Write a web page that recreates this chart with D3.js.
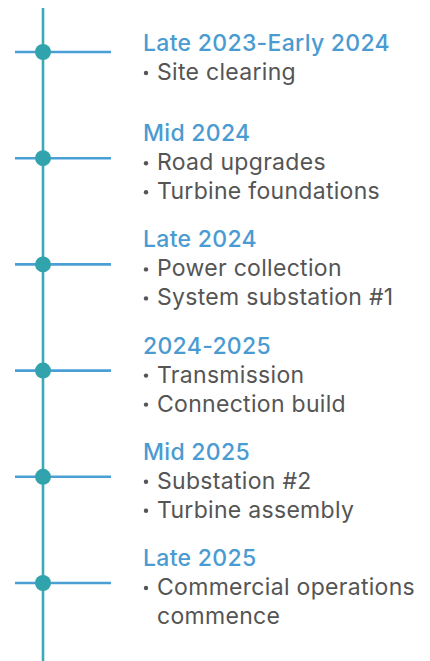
<!DOCTYPE html>
<html>
<head>
<meta charset="utf-8">
<script src="https://cdn.jsdelivr.net/npm/d3@7"></script>
<style>
  html, body { margin: 0; padding: 0; background: #ffffff; }
  svg { display: block; }
</style>
</head>
<body>
<svg id="chart"></svg>
<script>
const phases = ['Late 2023-Early 2024', 'Mid 2024', 'Late 2024', '2024-2025', 'Mid 2025', 'Late 2025'];
const tasks = [
    ['Site clearing'],
    ['Road upgrades', 'Turbine foundations'],
    ['Power collection', 'System substation #1'],
    ['Transmission', 'Connection build'],
    ['Substation #2', 'Turbine assembly'],
    ['Commercial operations', 'commence']
];
// lines that wrap from the previous bullet (no bullet drawn)
const continued = [[false], [false, false], [false, false], [false, false], [false, false], [false, true]];

const width = 430;
const height = 661;
const axisX = 43;
const textX = 143;
const lineH = 29;

const svg = d3.select('#chart')
    .attr('width', width)
    .attr('height', height);

const y = d3.scalePoint()
    .domain(phases)
    .range([52, 583]);

// vertical spine
svg.append('line')
    .attr('x1', axisX)
    .attr('x2', axisX)
    .attr('y1', 8)
    .attr('y2', height)
    .attr('stroke', '#3aabb6')
    .attr('stroke-width', 2.6);

const items = svg.selectAll('.item')
    .data(phases)
    .enter()
    .append('g')
    .attr('class', 'item');

items.append('line')
    .attr('x1', 15)
    .attr('x2', 111)
    .attr('y1', d => y(d))
    .attr('y2', d => y(d))
    .attr('stroke', '#4a9fd4')
    .attr('stroke-width', 2.6);

items.append('circle')
    .attr('cx', axisX)
    .attr('cy', d => y(d))
    .attr('r', 8)
    .attr('fill', '#31a3ad');

const titleY = d => Math.max(y(d) - 17, 51);

items.append('text')
    .attr('x', textX)
    .attr('y', titleY)
    .attr('fill', '#4a9bd2')
    .style('font-family', 'Inter, sans-serif')
    .style('font-size', '23px')
    .style('letter-spacing', '0.3px')
    .style('font-weight', 500)
    .text(d => d);

items.each(function(d, i) {
    const g = d3.select(this);
    tasks[i].forEach((t, j) => {
        const by = titleY(d) + lineH * (j + 1);
        if (!continued[i][j]) {
            g.append('circle')
                .attr('cx', textX + 3)
                .attr('cy', by - 7)
                .attr('r', 2.2)
                .attr('fill', '#555555');
        }
        g.append('text')
            .attr('x', textX + 14)
            .attr('y', by)
            .attr('fill', '#555555')
            .style('font-family', 'Inter, sans-serif')
            .style('font-size', '23px')
            .style('letter-spacing', '0.3px')
            .text(t);
    });
});
</script>
</body>
</html>
